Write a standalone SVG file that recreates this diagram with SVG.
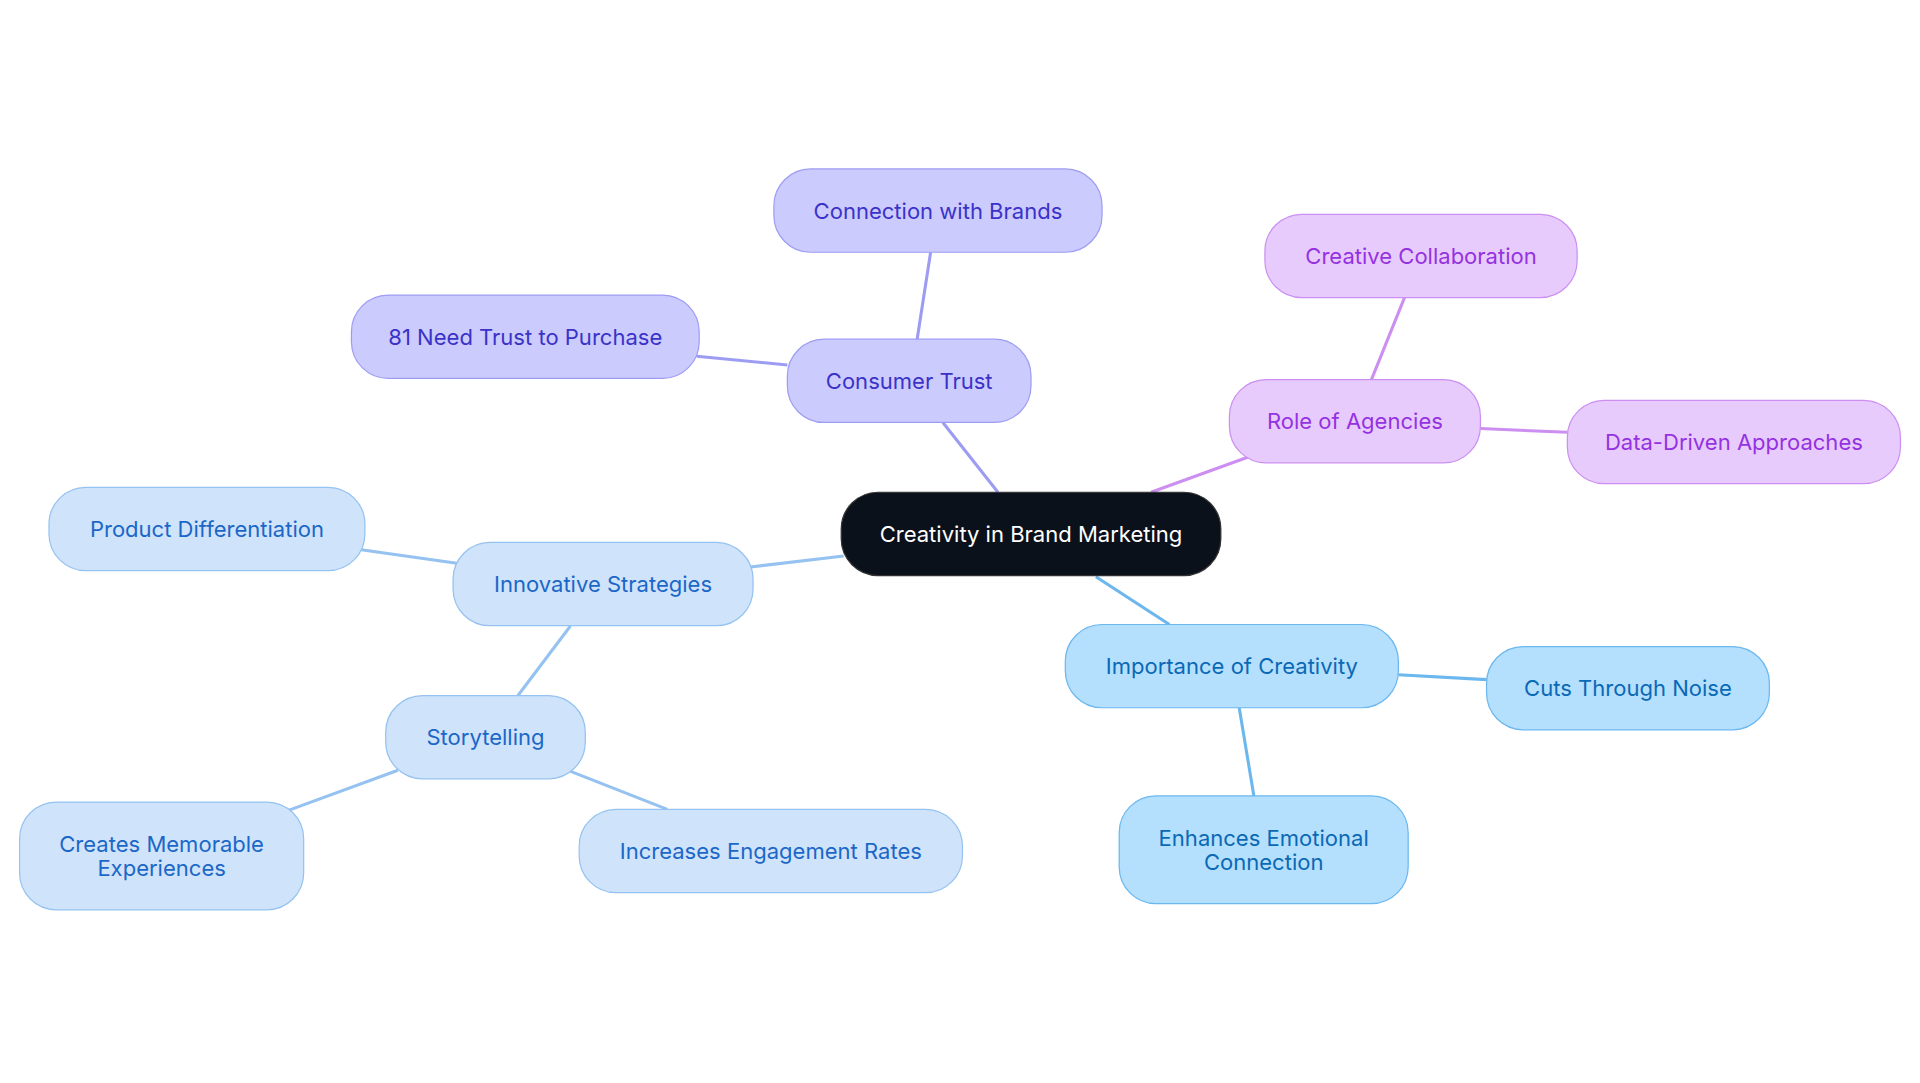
<svg xmlns="http://www.w3.org/2000/svg" width="1920" height="1083" viewBox="0 0 1920 1083">
<style>
text{font-family:Inter,"Noto Sans",sans-serif;font-size:18px;text-anchor:middle;dominant-baseline:central}
.p rect{fill:#cccbfd;stroke:#9d9cf3;stroke-width:1}.p text{fill:#3a32c9}
.v rect{fill:#e8cbfd;stroke:#cc8ff1;stroke-width:1}.v text{fill:#9432e0}
.b rect{fill:#cfe3fb;stroke:#95c2f0;stroke-width:1}.b text{fill:#1b67c8}
.s rect{fill:#b4dffd;stroke:#6bb7ee;stroke-width:1}.s text{fill:#0a69b5}
#edges line{stroke-width:2.5;fill:none}
</style>
<rect width="1920" height="1083" fill="#fff"/>
<g transform="scale(1.2245)">
<g id="edges">
<line x1="815" y1="402" x2="770" y2="345" stroke="#9d9cf3"/>
<line x1="749" y1="277" x2="760" y2="206" stroke="#9d9cf3"/>
<line x1="643" y1="298" x2="569" y2="291" stroke="#9d9cf3"/>
<line x1="940" y1="402" x2="1020" y2="373" stroke="#cc8ff1"/>
<line x1="1120" y1="310" x2="1147" y2="243" stroke="#cc8ff1"/>
<line x1="1209" y1="350" x2="1280" y2="353" stroke="#cc8ff1"/>
<line x1="689" y1="454" x2="613" y2="463" stroke="#95c2f0"/>
<line x1="373" y1="460" x2="295" y2="449" stroke="#95c2f0"/>
<line x1="466" y1="511" x2="423" y2="568" stroke="#95c2f0"/>
<line x1="325" y1="629" x2="235" y2="662" stroke="#95c2f0"/>
<line x1="466" y1="630" x2="545" y2="661" stroke="#95c2f0"/>
<line x1="895" y1="471" x2="955" y2="510" stroke="#6bb7ee"/>
<line x1="1142" y1="551" x2="1214" y2="555" stroke="#6bb7ee"/>
<line x1="1012" y1="578" x2="1024" y2="650" stroke="#6bb7ee"/>
</g>
<g id="center"><rect x="687" y="402" width="310" height="68" rx="30" fill="#0b111b" stroke="#333" stroke-width="1"/><text x="842" y="436" fill="#fff">Creativity in Brand Marketing</text></g>
<g id="consumer-trust" class="p"><rect x="643" y="277" width="199" height="68" rx="30"/><text x="742.5" y="311">Consumer Trust</text></g>
<g id="connection-brands" class="p"><rect x="632" y="138" width="268" height="68" rx="30"/><text x="766" y="172">Connection with Brands</text></g>
<g id="need-trust" class="p"><rect x="287" y="241" width="284" height="68" rx="30"/><text x="429" y="275">81 Need Trust to Purchase</text></g>
<g id="role-agencies" class="v"><rect x="1004" y="310" width="205" height="68" rx="30"/><text x="1106.5" y="344">Role of Agencies</text></g>
<g id="creative-collab" class="v"><rect x="1033" y="175" width="255" height="68" rx="30"/><text x="1160.5" y="209">Creative Collaboration</text></g>
<g id="data-driven" class="v"><rect x="1280" y="327" width="272" height="68" rx="30"/><text x="1416" y="361">Data-Driven Approaches</text></g>
<g id="innovative" class="b"><rect x="370" y="443" width="245" height="68" rx="30"/><text x="492.5" y="477">Innovative Strategies</text></g>
<g id="product-diff" class="b"><rect x="40" y="398" width="258" height="68" rx="30"/><text x="169" y="432">Product Differentiation</text></g>
<g id="storytelling" class="b"><rect x="315" y="568" width="163" height="68" rx="30"/><text x="396.5" y="602">Storytelling</text></g>
<g id="memorable" class="b"><rect x="16" y="655" width="232" height="88" rx="30"/><text x="132" y="689">Creates Memorable</text><text x="132" y="709">Experiences</text></g>
<g id="engagement" class="b"><rect x="473" y="661" width="313" height="68" rx="30"/><text x="629.5" y="695">Increases Engagement Rates</text></g>
<g id="importance" class="s"><rect x="870" y="510" width="272" height="68" rx="30"/><text x="1006" y="544">Importance of Creativity</text></g>
<g id="noise" class="s"><rect x="1214" y="528" width="231" height="68" rx="30"/><text x="1329.5" y="562">Cuts Through Noise</text></g>
<g id="emotional" class="s"><rect x="914" y="650" width="236" height="88" rx="30"/><text x="1032" y="684">Enhances Emotional</text><text x="1032" y="704">Connection</text></g>
</g>
</svg>
